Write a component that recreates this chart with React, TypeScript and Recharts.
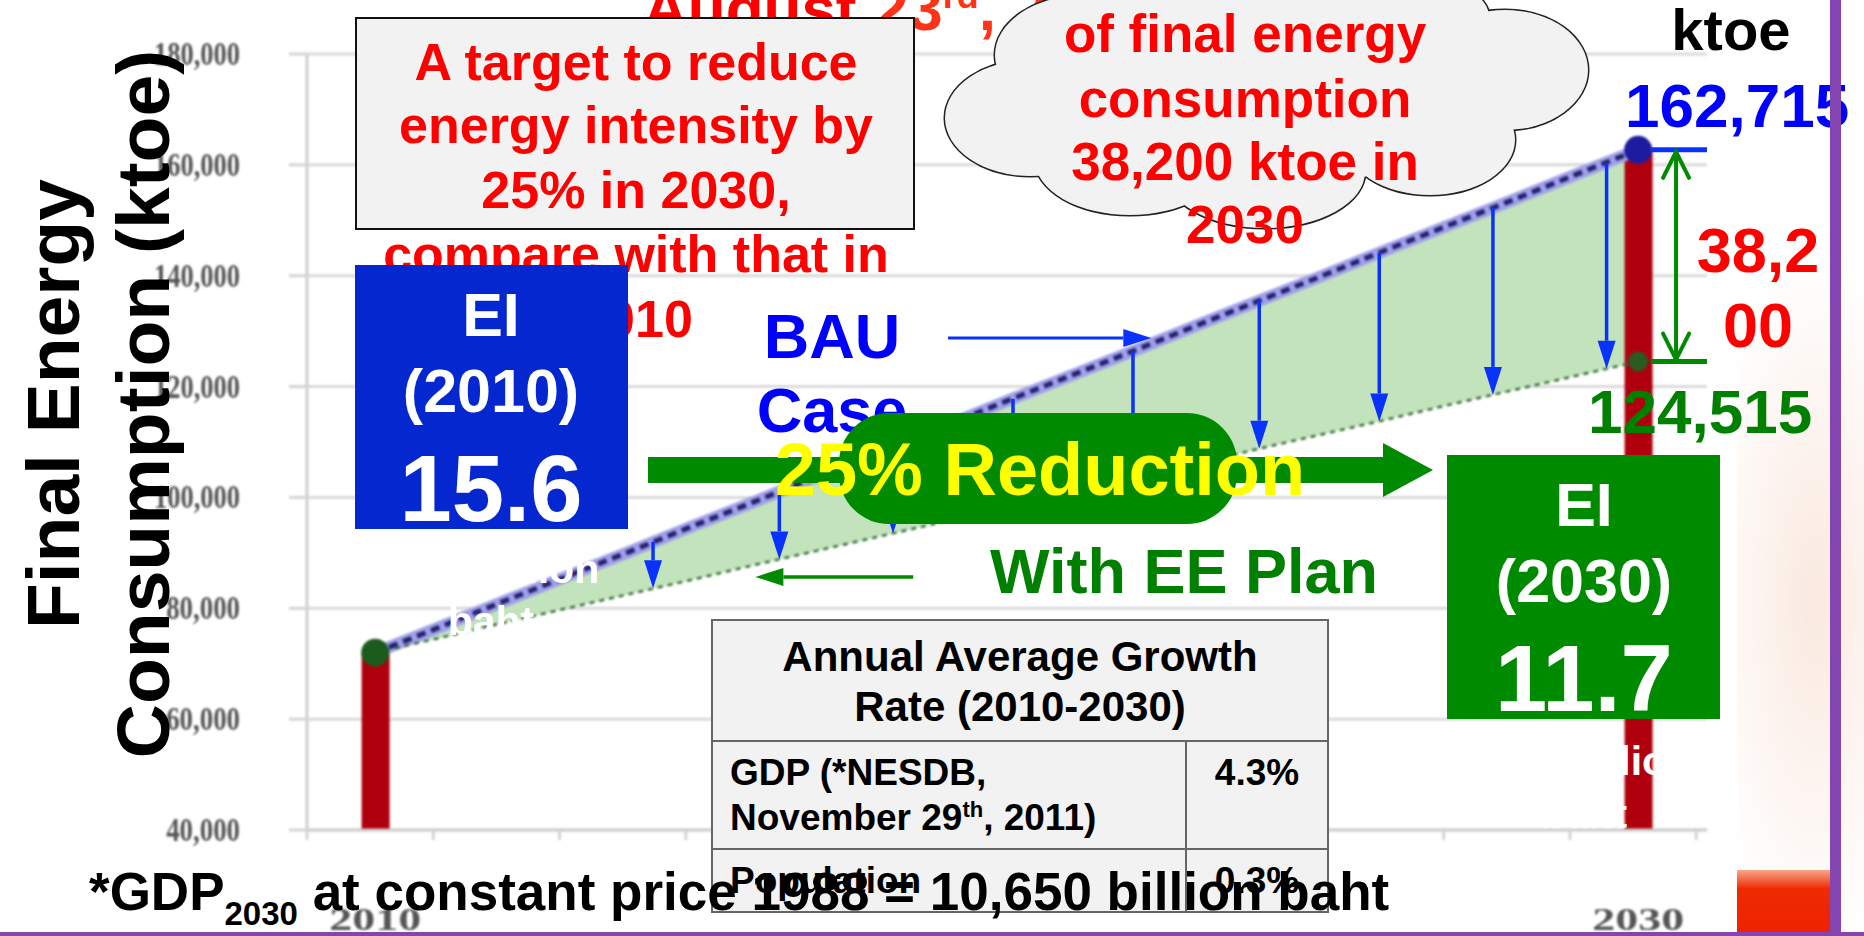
import React from 'react';
import {
  ComposedChart,
  Area,
  Bar,
  Line,
  XAxis,
  YAxis,
  CartesianGrid,
  ReferenceLine,
  ReferenceDot,
} from 'recharts';

// final energy consumption, ktoe
const years = [
  2010, 2011, 2012, 2013, 2014, 2015, 2016, 2017, 2018, 2019, 2020,
  2021, 2022, 2023, 2024, 2025, 2026, 2027, 2028, 2029, 2030,
];
const bauKtoe = [
  72000, 76500, 81100, 85600, 90100, 94700, 99200, 103800, 108300, 112800, 117400,
  121900, 126400, 131000, 135500, 140000, 144600, 149100, 153600, 158200, 162715,
];
const eeKtoe = [
  72000, 74600, 77300, 79900, 82500, 85100, 87800, 90400, 93000, 95600, 98300,
  100900, 103500, 106100, 108800, 111400, 114000, 116700, 119300, 121900, 124515,
];
const barYears = [2010, 2030];
const barKtoe = [72000, 162715];

const yTicks = [40000, 60000, 80000, 100000, 120000, 140000, 160000, 180000];
const xTickMarks = [2008.92, 2010.92, 2012.92, 2014.92, 2016.92, 2018.92, 2020.92, 2022.92, 2024.92, 2026.92, 2028.92, 2030.92];
const xLabelYears = [2010, 2030];

// blue "saving" arrows between the two cases
const arrowYears = [2014.4, 2016.4, 2018.2, 2020.1, 2022.0, 2024.0, 2025.9, 2027.7, 2029.5];
const arrowFrom = [92000, 101000, 109200, 117800, 126400, 135500, 144100, 152300, 160400];
const arrowTo = [83600, 88800, 93500, 98500, 103500, 108800, 113700, 118500, 123200];

// pointers to the two lines
const bauPointer = { from: 2019.07, to: 2022.29, ktoe: 128760 };
const eePointer = { from: 2018.52, to: 2016.02, ktoe: 85650 };
const gapMark = { from: 2030.2, to: 2031.09, mid: 2030.6 };

const table = years.map((year, i) => ({
  year,
  bau: bauKtoe[i],
  ee: eeKtoe[i],
  range: [eeKtoe[i], bauKtoe[i]],
  bar: barYears.includes(year) ? barKtoe[barYears.indexOf(year)] : null,
}));

const SANS = '"Liberation Sans", Arial, Helvetica, sans-serif';
const SERIF = '"Liberation Serif", "Times New Roman", serif';
const W = 1864;
const H = 936;
const MARGIN = { top: 54, right: 157, bottom: 46, left: 247 };
const X_DOMAIN: [number, number] = [2008.92, 2031.09];
const Y_DOMAIN: [number, number] = [40000, 180000];

function YearTick(props: any) {
  const { x, y, payload } = props;
  if (xLabelYears.includes(payload.value)) {
    return (
      <text x={x} y={y + 100} textAnchor="middle" fontFamily={SERIF} fontWeight="bold" fontSize={32} fill="#555"
        textLength={92} lengthAdjust="spacingAndGlyphs">
        {payload.value}
      </text>
    );
  }
  return <line x1={x} y1={y - 2} x2={x} y2={y + 10} stroke="#d4d4d4" strokeWidth={3} />;
}

function KtoeTick(props: any) {
  const { x, y, payload } = props;
  const label = Number(payload.value).toLocaleString('en-US');
  return (
    <text x={x} y={y} textAnchor="end" dominantBaseline="central" fontFamily={SERIF} fontWeight="bold"
      fontSize={33} fill="#555" textLength={label.length * 12.3} lengthAdjust="spacingAndGlyphs">
      {label}
    </text>
  );
}

const arrowShape = (color: string, w: number, head: number, half: number) => (p: any) => {
  const { x1, y1, x2, y2 } = p;
  const dx = x2 - x1;
  const dy = y2 - y1;
  const len = Math.hypot(dx, dy) || 1;
  const ux = dx / len;
  const uy = dy / len;
  const bx = x2 - ux * head;
  const by = y2 - uy * head;
  return (
    <g>
      <line x1={x1} y1={y1} x2={bx} y2={by} stroke={color} strokeWidth={w} />
      <polygon
        points={`${x2},${y2} ${bx - uy * half},${by + ux * half} ${bx + uy * half},${by - ux * half}`}
        fill={color}
      />
    </g>
  );
};

const doubleArrowShape = (color: string, w: number, head: number, half: number) => (p: any) => {
  const { x1, y1, x2, y2 } = p;
  const dir = y2 > y1 ? 1 : -1;
  return (
    <g stroke={color} strokeWidth={w} fill="none" strokeLinecap="round">
      <line x1={x1} y1={y1 + 2 * dir} x2={x2} y2={y2 - 2 * dir} />
      <polyline points={`${x1 - half},${y1 + head * dir} ${x1},${y1 + 2 * dir} ${x1 + half},${y1 + head * dir}`} />
      <polyline points={`${x2 - half},${y2 - head * dir} ${x2},${y2 - 2 * dir} ${x2 + half},${y2 - head * dir}`} />
    </g>
  );
};

type TxtProps = {
  x: number;
  base: number;
  size: number;
  color?: string;
  align?: 'center' | 'left';
  children: React.ReactNode;
  style?: React.CSSProperties;
};

function Txt({ x, base, size, color = '#000', align = 'center', children, style }: TxtProps) {
  const top = base - 0.8465 * size;
  const pos: React.CSSProperties =
    align === 'center' ? { left: x - 800, width: 1600, textAlign: 'center' } : { left: x };
  return (
    <div
      style={{
        position: 'absolute',
        top,
        ...pos,
        fontFamily: SANS,
        fontWeight: 700,
        fontSize: size,
        lineHeight: `${size}px`,
        color,
        whiteSpace: 'nowrap',
        ...style,
      }}
    >
      {children}
    </div>
  );
}

function Box({ l, t, w, h, style }: { l: number; t: number; w: number; h: number; style?: React.CSSProperties }) {
  return <div style={{ position: 'absolute', left: l, top: t, width: w, height: h, boxSizing: 'border-box', ...style }} />;
}

// cloud callout outline: overlapping ellipses [cx, cy, rx, ry]
const cloudShape = [
  [1085, 55, 90, 60],
  [1030, 118, 85, 58],
  [1130, 160, 95, 55],
  [1265, 172, 100, 56],
  [1430, 140, 85, 55],
  [1505, 70, 83, 60],
  [1250, 90, 230, 100],
  [1300, 20, 190, 70],
];

function BaseChart() {
  return (
    <ComposedChart width={W} height={H} data={table} margin={MARGIN}>
      <CartesianGrid vertical={false} stroke="#dadada" strokeWidth={3} />
      <XAxis
        dataKey="year"
        type="number"
        domain={X_DOMAIN}
        allowDataOverflow
        ticks={[...xTickMarks, ...xLabelYears]}
        interval={0}
        tick={<YearTick />}
        tickLine={false}
        tickSize={0}
        tickMargin={0}
        axisLine={{ stroke: '#cfcfcf', strokeWidth: 3 }}
        height={60}
      />
      <YAxis
        type="number"
        domain={Y_DOMAIN}
        ticks={yTicks}
        interval={0}
        width={60}
        tickSize={18}
        tickMargin={49}
        tickLine={{ stroke: '#d4d4d4', strokeWidth: 3 }}
        axisLine={{ stroke: '#cfcfcf', strokeWidth: 3 }}
        tick={<KtoeTick />}
      />
      <Area dataKey="range" type="linear" fill="#c2e3bc" fillOpacity={1} stroke="none" isAnimationActive={false} />
      <Bar dataKey="bar" barSize={28} fill="#b0000e" isAnimationActive={false} />
      <Line dataKey="bau" type="linear" stroke="#a0a0ea" strokeWidth={12} dot={false} isAnimationActive={false} />
      <Line dataKey="bau" type="linear" stroke="#23236e" strokeWidth={5} strokeDasharray="9 6" dot={false} isAnimationActive={false} />
      <Line dataKey="ee" type="linear" stroke="#3a6e3a" strokeWidth={2.5} strokeDasharray="5 5" dot={false} isAnimationActive={false} />
      <ReferenceDot x={years[0]} y={eeKtoe[0]} r={14} fill="#1d5a1d" stroke="none" ifOverflow="visible" />
      <ReferenceDot x={years[years.length - 1]} y={eeKtoe[eeKtoe.length - 1]} r={10} fill="#2b5a22" stroke="none" ifOverflow="visible" />
      <ReferenceDot x={years[years.length - 1]} y={bauKtoe[bauKtoe.length - 1]} r={14} fill="#1c1ca0" stroke="none" ifOverflow="visible" />
    </ComposedChart>
  );
}

function AnnotationChart() {
  const last = bauKtoe.length - 1;
  return (
    <ComposedChart width={W} height={H} data={table} margin={MARGIN}>
      <XAxis dataKey="year" type="number" domain={X_DOMAIN} allowDataOverflow tick={false} tickLine={false} axisLine={false} height={60} />
      <YAxis type="number" domain={Y_DOMAIN} allowDataOverflow tick={false} tickLine={false} axisLine={false} width={60} />
      <Line dataKey="bau" stroke="#fff" strokeOpacity={0} dot={false} activeDot={false} isAnimationActive={false} />
      {arrowYears.map((yr, i) => (
        <ReferenceLine
          key={yr}
          segment={[{ x: yr, y: arrowFrom[i] }, { x: yr, y: arrowTo[i] }]}
          ifOverflow="visible"
          shape={arrowShape('#0a32ff', 3.5, 28, 9)}
        />
      ))}
      <ReferenceLine
        segment={[{ x: bauPointer.from, y: bauPointer.ktoe }, { x: bauPointer.to, y: bauPointer.ktoe }]}
        ifOverflow="visible"
        shape={arrowShape('#0a32ff', 3, 28, 9)}
      />
      <ReferenceLine
        segment={[{ x: eePointer.from, y: eePointer.ktoe }, { x: eePointer.to, y: eePointer.ktoe }]}
        ifOverflow="visible"
        shape={arrowShape('#008a00', 3.5, 28, 9)}
      />
      <ReferenceLine
        segment={[{ x: gapMark.from, y: bauKtoe[last] }, { x: gapMark.to, y: bauKtoe[last] }]}
        ifOverflow="visible"
        stroke="#0a32ff"
        strokeWidth={5}
      />
      <ReferenceLine
        segment={[{ x: gapMark.from, y: eeKtoe[last] }, { x: gapMark.to, y: eeKtoe[last] }]}
        ifOverflow="visible"
        stroke="#008a00"
        strokeWidth={5}
      />
      <ReferenceLine
        segment={[{ x: gapMark.mid, y: bauKtoe[last] }, { x: gapMark.mid, y: eeKtoe[last] }]}
        ifOverflow="visible"
        shape={doubleArrowShape('#008a00', 4, 28, 13)}
      />
    </ComposedChart>
  );
}

export default function App() {
  return (
    <div style={{ position: 'absolute', left: 0, top: 0, width: W, height: H, overflow: 'hidden', background: '#fff' }}>
      <div
        style={{
          position: 'absolute', left: 1700, top: 240, width: 230, height: 720, borderRadius: '50%',
          background: 'radial-gradient(ellipse at center, rgba(242,200,175,0.4), rgba(255,255,255,0) 70%)',
        }}
      />
      <Box l={0} t={0} w={1737} h={936} style={{ background: '#fff' }} />

      <div style={{ position: 'absolute', left: 0, top: 0, filter: 'blur(1.3px)' }}>
        <BaseChart />
      </div>
      <div style={{ position: 'absolute', left: 0, top: 0 }}>
        <AnnotationChart />
      </div>

      {/* white unit labels that sit on the chart */}
      <Txt x={491} base={584} size={41} color="#fff">ktoe/billion</Txt>
      <Txt x={491} base={636} size={41} color="#fff">baht</Txt>
      <Txt x={1584} base={776} size={41} color="#fff">ktoe/billion</Txt>
      <Txt x={1584} base={829} size={41} color="#fff">baht</Txt>

      {/* y axis title */}
      {[
        { cx: 53, label: 'Final Energy' },
        { cx: 143, label: 'Consumption (ktoe)' },
      ].map((t) => (
        <div
          key={t.label}
          style={{
            position: 'absolute', left: t.cx - 400, top: 404 - 45, width: 800, height: 90, lineHeight: '90px',
            textAlign: 'center', transform: 'rotate(-90deg)', fontFamily: SANS, fontWeight: 700, fontSize: 75,
            color: '#000', whiteSpace: 'nowrap',
          }}
        >
          {t.label}
        </div>
      ))}

      {/* slide title, mostly hidden */}
      <Txt x={643} base={30} size={62} align="left" color="#ff0000">
        August <span style={{ color: '#ff3318' }}>23<sup style={{ fontSize: 36, lineHeight: 0 }}>rd</sup>, 2011</span>
      </Txt>

      {/* cloud callout */}
      <svg width={W} height={300} style={{ position: 'absolute', left: 0, top: 0 }}>
        {cloudShape.map(([cx, cy, rx, ry], i) => (
          <ellipse key={`o${i}`} cx={cx} cy={cy} rx={rx} ry={ry} fill="#f2f2f2" stroke="#222" strokeWidth={3} />
        ))}
        {cloudShape.map(([cx, cy, rx, ry], i) => (
          <ellipse key={`f${i}`} cx={cx} cy={cy} rx={rx} ry={ry} fill="#f2f2f2" />
        ))}
      </svg>
      <Txt x={1245} base={52} size={53} color="#ff0000">of final energy</Txt>
      <Txt x={1245} base={117} size={53} color="#ff0000">consumption</Txt>
      <Txt x={1245} base={180} size={53} color="#ff0000">38,200 ktoe in</Txt>
      <Txt x={1245} base={243} size={53} color="#ff0000">2030</Txt>

      {/* target text box */}
      <Box l={355} t={17} w={560} h={213} style={{ background: '#f2f2f2', border: '2.5px solid #111' }} />
      <Txt x={636} base={80} size={52} color="#ff0000">A target to reduce</Txt>
      <Txt x={636} base={143} size={52} color="#ff0000">energy intensity by</Txt>
      <Txt x={636} base={208} size={52} color="#ff0000">25% in 2030,</Txt>
      <Txt x={636} base={272} size={52} color="#ff0000">compare with that in</Txt>
      <Txt x={635} base={337} size={52} color="#ff0000">2010</Txt>

      {/* EI 2010 */}
      <Box l={355} t={265} w={273} h={264} style={{ background: '#0527d0' }} />
      <Txt x={491} base={337} size={61} color="#fff">EI</Txt>
      <Txt x={491} base={413} size={61} color="#fff">(2010)</Txt>
      <Txt x={491} base={522} size={94} color="#fff">15.6</Txt>

      <Txt x={832} base={358} size={63} color="#0000ff">BAU</Txt>
      <Txt x={832} base={432} size={63} color="#0000ff">Case</Txt>
      <Txt x={990} base={593} size={63} align="left" color="#008000">With EE Plan</Txt>

      {/* reduction arrow */}
      <svg width={W} height={H} style={{ position: 'absolute', left: 0, top: 0 }}>
        <polygon points="648,457 1383,457 1383,443 1433,470 1383,497 1383,483 648,483" fill="#008a00" />
      </svg>
      <Box l={839} t={413} w={398} h={111} style={{ background: '#008a00', borderRadius: 50 }} />
      <Txt x={1040} base={496} size={74} color="#ffff00">25% Reduction</Txt>

      {/* EI 2030 */}
      <Box l={1447} t={455} w={273} h={264} style={{ background: '#008a00' }} />
      <Txt x={1584} base={527} size={61} color="#fff">EI</Txt>
      <Txt x={1584} base={603} size={61} color="#fff">(2030)</Txt>
      <Txt x={1584} base={712} size={94} color="#fff">11.7</Txt>

      {/* right side values */}
      <Txt x={1731} base={50} size={58} color="#000">ktoe</Txt>
      <Txt x={1625} base={127} size={62} align="left" color="#0000ff">162,715</Txt>
      <div
        style={{
          position: 'absolute', left: 1693, top: 213, width: 130, fontFamily: SANS, fontWeight: 700, fontSize: 63,
          lineHeight: '75px', color: '#ff0000', textAlign: 'center', wordBreak: 'break-all',
        }}
      >
        38,200
      </div>
      <Txt x={1588} base={433} size={62} align="left" color="#008000">124,515</Txt>

      {/* growth-rate table */}
      <Box l={711} t={619} w={618} h={294} style={{ background: '#f2f2f2', border: '2px solid #666' }} />
      <Box l={711} t={740} w={618} h={2} style={{ background: '#666' }} />
      <Box l={711} t={848} w={618} h={2} style={{ background: '#666' }} />
      <Box l={1185} t={741} w={2} h={172} style={{ background: '#666' }} />
      <Txt x={1020} base={672} size={42}>Annual Average Growth</Txt>
      <Txt x={1020} base={722} size={42}>Rate (2010-2030)</Txt>
      <Txt x={730} base={785} size={37} align="left">GDP (*NESDB,</Txt>
      <Txt x={730} base={830} size={37} align="left">
        November 29<sup style={{ fontSize: 22, lineHeight: 0 }}>th</sup>, 2011)
      </Txt>
      <Txt x={1257} base={785} size={37}>4.3%</Txt>
      <Txt x={730} base={893} size={37} align="left">Population</Txt>
      <Txt x={1257} base={893} size={37}>0.3%</Txt>

      {/* footnote */}
      <Txt x={89} base={910} size={53} align="left">
        *GDP<sub style={{ fontSize: 33, lineHeight: 0, verticalAlign: -15 }}>2030</sub> at constant price 1988 = 10,650 billion baht
      </Txt>

      {/* slide frame */}
      <Box l={1737} t={870} w={93} h={63} style={{ background: 'linear-gradient(#f7a78a, #ef2a00 30%, #ee2200)' }} />
      <Box l={1830} t={0} w={11} h={936} style={{ background: '#8545b0' }} />
      <Box l={0} t={932} w={W} h={4} style={{ background: '#8545b0' }} />
    </div>
  );
}
